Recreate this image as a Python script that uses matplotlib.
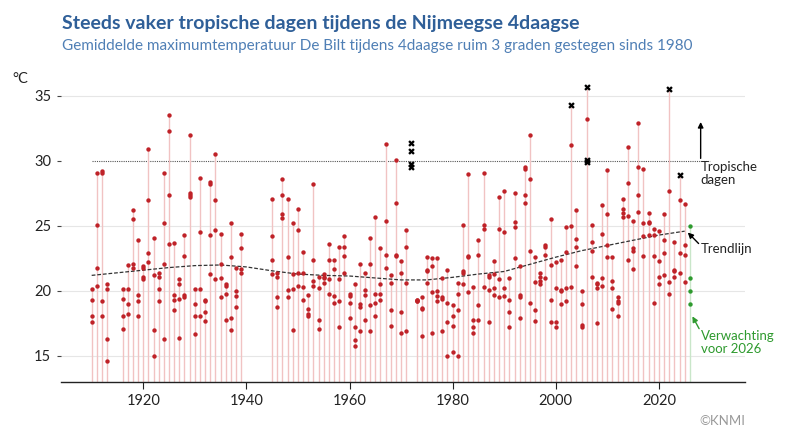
import matplotlib
matplotlib.use("Agg")
import matplotlib.pyplot as plt
import numpy as np

# ---------------- data ----------------
years = [1910, 1911, 1912, 1913, 1916, 1917, 1918, 1919, 1920, 1921, 1922, 1923, 1924,
         1925, 1926, 1927, 1928, 1929, 1930, 1931, 1932, 1933, 1934, 1935, 1936, 1937,
         1938, 1939, 1945, 1946, 1947, 1948, 1949, 1950, 1951, 1952, 1953, 1954, 1955,
         1956, 1957, 1958, 1959, 1960, 1961, 1962, 1963, 1964, 1965, 1966, 1967, 1968,
         1969, 1970, 1971, 1972, 1973, 1974, 1975, 1976, 1977, 1978, 1979, 1980, 1981,
         1982, 1983, 1984, 1985, 1986, 1987, 1988, 1989, 1990, 1991, 1992, 1993, 1994,
         1995, 1996, 1997, 1998, 1999, 2000, 2001, 2002, 2003, 2004, 2005, 2006, 2007,
         2008, 2009, 2010, 2011, 2012, 2013, 2014, 2015, 2016, 2017, 2018, 2019, 2020,
         2021, 2022, 2023, 2024, 2025]

N = None
t1 = [20.15, 29.1, 29.2, 20.5, 20.15, 22.0, 26.2, 23.9, 21.9, 30.9, 24.1, 21.4, 29.1,
      33.5, 23.7, 20.9, 24.3, 32.0, 20.15, 28.7, 19.3, 28.4, 30.5, 24.4, 20.5, 25.2,
      21.8, 24.4, 27.1, 21.4, 28.6, 27.1, 25.2, 26.3, 23.0, 19.7, 28.2, 21.1, 21.3,
      23.6, 22.4, 23.4, 24.2, 19.8, 20.5, 22.1, 21.4, 24.1, 25.7, 23.3, 31.3, 21.2,
      30.1, 22.3, 24.7, N, 19.3, 19.5, 22.6, 22.5, 22.5, 21.0, 21.6, 18.9, 20.6,
      25.1, 29.0, 20.3, 23.9, 29.1, 21.2, 22.3, 27.2, 27.7, 21.0, 27.5, 21.9, 29.5,
      32.0, 22.6, 21.4, 23.5, 25.5, 22.2, 22.4, 24.9, 31.2, 26.2, 20.0, 33.2, 25.1,
      20.6, 26.6, 29.3, 22.6, 19.5, 27.1, 31.1, 25.4, 32.9, 29.4, 26.0, 24.8, 24.6,
      25.9, 27.7, 23.8, 27.0, 26.7]
t2 = [19.3, 25.1, 29.1, 20.15, 19.4, 20.15, 25.5, 19.7, 21.8, 27.0, 21.2, 21.1, 25.2,
      32.3, 19.7, 20.5, 22.7, 27.5, 19.0, 24.5, 19.2, 28.2, 27.0, 22.1, 20.4, 22.6,
      20.0, 23.3, 24.2, 21.1, 27.4, 22.6, 21.3, 24.7, 21.4, 18.6, 22.4, 20.2, 21.1,
      22.4, 21.7, 20.9, 23.4, 19.6, 17.2, 19.0, 20.1, 22.1, 19.8, 20.5, 25.4, 20.6,
      26.8, 21.4, 23.4, N, 19.3, 18.7, 21.6, 21.9, 20.0, 19.5, 19.1, 18.1, 19.8,
      21.5, 22.7, 17.8, 22.8, 25.1, 21.1, 21.3, 24.8, 24.5, 19.3, 25.3, 19.7, 29.4,
      28.6, 20.7, 21.1, 23.4, 22.0, 20.2, 20.1, 23.0, 25.0, 24.0, 19.0, N, 23.8,
      20.5, 24.4, 25.9, 20.8, 19.2, 26.3, 28.3, 23.3, 29.5, 25.2, 25.3, 24.3, 22.3,
      23.9, 20.7, 21.6, 22.9, 23.5]
t3 = [18.1, 21.8, 19.2, 16.3, 18.1, 19.0, 22.1, 19.2, 21.1, 22.9, 17.0, 20.15, 22.1,
      27.4, 19.3, 19.4, 19.7, 27.4, 18.1, 20.15, 18.4, 24.3, 24.7, 21.0, 19.8, 17.9,
      19.6, 21.7, 22.4, 19.5, 25.9, 20.1, 20.15, 21.4, 20.3, 18.2, 20.8, 17.8, 21.0,
      20.9, 19.6, 19.2, 22.7, 19.1, 16.2, 18.8, 19.7, 18.9, 19.1, 19.8, 22.8, 18.5,
      22.8, 18.4, 20.6, N, 19.2, 18.6, 21.5, 19.9, 19.6, 19.4, 17.6, 17.3, 18.5,
      21.4, 22.6, 17.2, 18.9, 24.8, 20.1, 20.2, 20.9, 20.2, 18.4, 24.9, 19.5, 27.4,
      23.1, 18.5, 20.8, 22.8, 19.3, 17.6, 20.0, 20.2, 20.3, 23.4, 17.4, N, 23.1,
      20.2, 21.0, 23.5, 20.2, 19.1, 26.0, 25.8, 23.1, 27.4, 24.2, 25.2, 22.7, 21.1,
      22.9, 19.8, 21.5, 21.4, 22.8]
t4 = [17.6, 20.4, 18.1, 14.6, 17.1, 18.2, 21.8, 18.1, 20.9, 22.2, 15.0, 19.2, 16.3,
      23.6, 18.5, 16.4, 19.5, 27.2, 16.7, 18.1, 17.7, 21.3, 20.9, 19.5, 17.8, 17.0,
      18.8, 21.4, 21.3, 18.8, 25.6, 19.5, 17.0, 20.4, 19.3, 18.1, 20.4, 17.1, 20.6,
      19.8, 19.1, 17.2, 21.4, 17.9, 15.8, 16.9, 17.8, 16.9, 18.1, 19.3, 21.8, 17.3,
      22.7, 16.8, 16.9, N, 19.2, 16.5, 20.6, 16.8, 19.2, 16.9, 15.0, 15.3, 15.0,
      20.5, 19.9, 16.8, 17.8, 20.3, 17.6, 19.7, 19.5, 19.6, 17.2, 22.5, 17.9, 26.8,
      19.1, 17.7, 20.5, 21.0, 17.6, 17.2, 19.0, 19.2, N, 21.9, 17.2, N, 21.1,
      17.5, 20.4, 22.6, 18.6, 18.1, 25.7, 22.4, 21.7, 26.1, 22.7, 24.3, 19.1, 20.5,
      21.2, N, 21.1, N, 20.7]

# days marked with a black cross
cross_years = [1972, 1972, 1972, 1972, 2003, 2006, 2006, 2006, 2022, 2024]
cross_temps = [31.4, 30.8, 29.8, 29.5, 34.3, 35.7, 30.1, 29.9, 35.5, 28.9]

# forecast 2026
fc_year = 2026
fc_temps = [25.0, 21.0, 20.0, 19.0]

# smoothed trend line
trend_years = [1910, 1915, 1920, 1925, 1930, 1935, 1940, 1945, 1950, 1955, 1960, 1965,
               1970, 1975, 1980, 1985, 1990, 1995, 2000, 2005, 2010, 2015, 2020, 2025]
trend_vals = [21.2, 21.4, 21.6, 21.8, 21.95, 22.0, 21.85, 21.55, 21.3, 21.2, 21.15, 21.0,
              20.85, 20.85, 21.05, 21.3, 21.5, 22.05, 22.6, 23.1, 23.5, 23.9, 24.3, 24.6]

tropical = 30
xticks = [1920, 1940, 1960, 1980, 2000, 2020]
yticks = [15, 20, 25, 30, 35]

# ---------------- style ----------------
RED = '#bf2228'
STEM = '#f1c3c3'
GREEN = '#2e9a2e'
GSTEM = '#c9e6c9'
TITLE = '#2f5f98'
SUB = '#4f7fb5'
FONT = ['Lato', 'DejaVu Sans']
plt.rcParams['font.family'] = FONT

fig = plt.figure(figsize=(7.9, 4.44), dpi=100)
ax = fig.add_axes([61/790, 1-381.7/444, (745-61)/790, (381.7-80)/444])
ymin, ymax = 13.02, 36.23
ax.set_xlim(1904.05, 2036.7)
ax.set_ylim(ymin, ymax)

yrs = np.array(years, dtype=float)
cols = [np.array([np.nan if v is None else v for v in t], dtype=float) for t in (t1, t2, t3, t4)]
allvals = np.vstack(cols)
cy = np.array(cross_years)
ct = np.array(cross_temps)
maxv = np.nanmax(allvals, axis=0)
for i, y in enumerate(years):
    m = ct[cy == y]
    if m.size:
        maxv[i] = max(maxv[i], m.max())

# grid lines
for yt in yticks:
    if yt == tropical:
        continue
    ax.plot([1904.05, 2036.7], [yt, yt], color='#e6e6e6', lw=0.8, zorder=0)
ax.plot([1910, 2030], [tropical, tropical], color='#555555', lw=0.8, ls=(0, (1, 1)), zorder=1)

# stems
ax.vlines(yrs, ymin, maxv, color=STEM, lw=1.0, zorder=2)
ax.vlines([fc_year], ymin, max(fc_temps), color=GSTEM, lw=1.0, zorder=2)

# trend
ax.plot(trend_years, trend_vals, color='#333333', lw=0.9, ls=(0, (3, 1.5)), zorder=3)

# dots
for c in cols:
    ax.scatter(yrs, c, s=10, color=RED, zorder=4, linewidths=0)
ax.scatter(cross_years, cross_temps, s=22, marker='X', color='black', zorder=5, linewidths=0)
ax.scatter([fc_year]*len(fc_temps), fc_temps, s=10, color=GREEN, zorder=4, linewidths=0)

# annotations
ap = dict(arrowstyle='-|>', lw=1.0, mutation_scale=8, shrinkA=0, shrinkB=0)
ax.annotate('', xy=(2028.1, 33.0), xytext=(2028.1, 30.2), arrowprops=dict(ap, color='black'))
ax.text(2028.1, 29.05, 'Tropische\ndagen', fontsize=9.5, color='#222222',
        ha='left', va='center', linespacing=1.05)
ax.annotate('', xy=(2025.6, 24.5), xytext=(2027.7, 23.65), arrowprops=dict(ap, color='black'))
ax.text(2028.1, 23.2, 'Trendlijn', fontsize=9.5, color='#222222', ha='left', va='center')
ax.annotate('', xy=(2026.5, 18.05), xytext=(2027.8, 17.1), arrowprops=dict(ap, color=GREEN))
ax.text(2028.1, 16.05, 'Verwachting\nvoor 2026', fontsize=9.5, color=GREEN,
        ha='left', va='center', linespacing=1.05)

# axes styling
for s in ('top', 'right', 'left'):
    ax.spines[s].set_visible(False)
ax.spines['bottom'].set_color('#222222')
ax.spines['bottom'].set_linewidth(1.0)
ax.set_xticks(xticks)
ax.set_yticks(yticks)
ax.tick_params(axis='x', length=5, width=0.8, color='#222222', labelsize=10.5,
               labelcolor='#222222', pad=4)
ax.tick_params(axis='y', length=3, width=0.8, color='#444444', labelsize=10.5,
               labelcolor='#222222', pad=4)

fig.text(12/790, 1-83/444, '°C', fontsize=10.5, color='#222222', ha='left', va='baseline')
fig.text(62/790, 1-29/444, 'Steeds vaker tropische dagen tijdens de Nijmeegse 4daagse',
         fontsize=14.0, fontweight='bold', color=TITLE, ha='left', va='baseline')
fig.text(62/790, 1-50/444,
         'Gemiddelde maximumtemperatuur De Bilt tijdens 4daagse ruim 3 graden gestegen sinds 1980',
         fontsize=10.95, color=SUB, ha='left', va='baseline')
fig.text(745/790, 1-425/444, '©KNMI', fontsize=9.5, color='#999999', ha='right', va='baseline')

fig.savefig('out.png', dpi=100)
